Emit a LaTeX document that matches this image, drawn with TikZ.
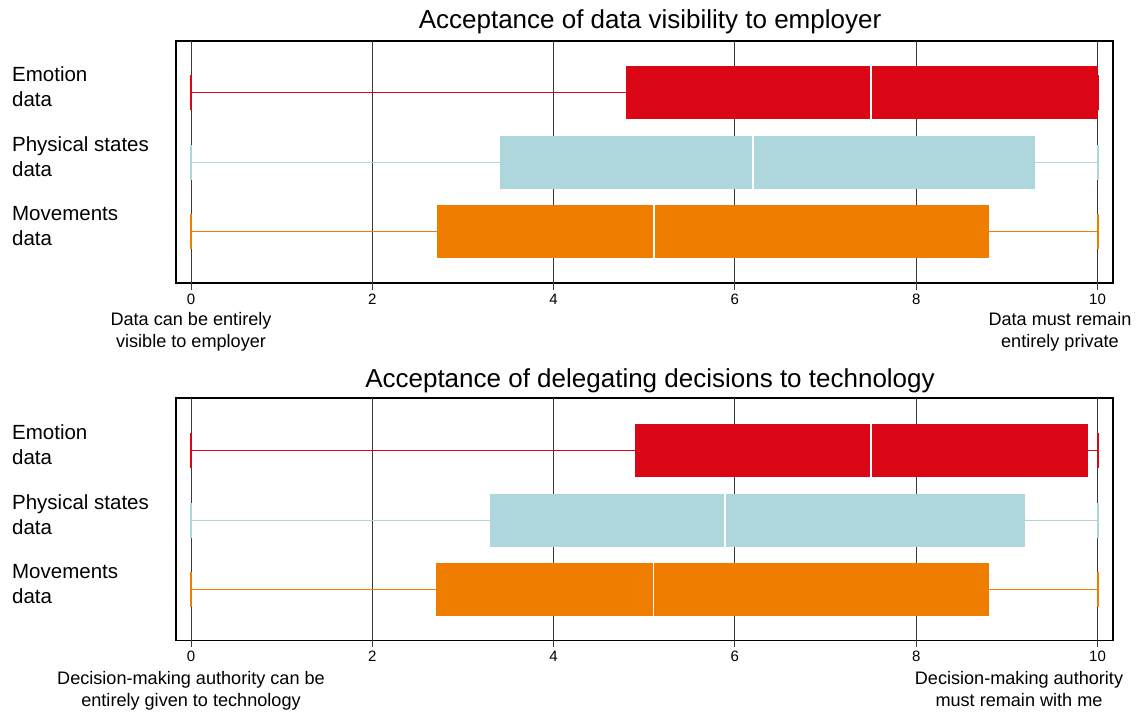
\documentclass[tikz,border=0pt]{standalone}
\usepackage{fontspec}
\setmainfont{Liberation Sans}
\usetikzlibrary{positioning}
\definecolor{emored}{HTML}{DA0515}
\definecolor{physblue}{HTML}{ADD7DC}
\definecolor{moveorange}{HTML}{EF7D00}
\definecolor{gridgrey}{HTML}{3A3A3A}
\tikzset{
    frame/.style={draw=black,line width=1.2pt},
    gridline/.style={draw=gridgrey,line width=0.9pt},
    whisker/.style={line width=1.4pt},
    capline/.style={line width=2pt},
    medianline/.style={draw=white,line width=1.5pt},
    rowlabel/.style={anchor=west,align=left,inner sep=0pt,font=\fontsize{20.5}{25}\selectfont},
    ticklabel/.style={anchor=base,inner sep=0pt,font=\fontsize{15}{17}\selectfont},
    endlabel/.style={anchor=base,align=center,inner sep=0pt,font=\fontsize{18.1}{22}\selectfont},
    charttitle/.style={anchor=base,inner sep=0pt,font=\fontsize{26}{30}\selectfont}
}

\begin{document}
\begin{tikzpicture}[x=1pt,y=-1pt]
    \useasboundingbox (0,0) rectangle (1137,713);
    % data visibility
    \node[charttitle] (titleA) at (650,28.3) {Acceptance of data visibility to employer};
    \begin{scope}[xshift=191pt,yshift=-41pt,x=90.65pt]
        \draw[frame] (-0.165,0) rectangle (10.17,242);
        \foreach \t in {0,2,...,10}{
            \draw[gridline] (\t,0) -- (\t,249);
            \node[ticklabel] (tickA\t) at (\t,263) {\t};
        }
        \foreach \yc/\qa/\md/\qb/\col/\lbl [count=\i] in {
                51.5/4.8/7.5/10/emored/Emotion,
                121.5/3.41/6.2/9.31/physblue/Physical states,
                190.5/2.71/5.11/8.8/moveorange/Movements}{
            \draw[whisker,\col] (0,\yc) -- (\qa,\yc) (\qb,\yc) -- (10,\yc);
            \draw[capline,\col] (0,\yc-17.5) -- (0,\yc+17.5) (10,\yc-17.5) -- (10,\yc+17.5);
            \fill[\col] (\qa,\yc-26.5) rectangle (\qb,\yc+26.5);
            \draw[medianline] (\md,\yc-26.5) -- (\md,\yc+26.5);
            \node[rowlabel] (rowA\i) at (-1.975,\yc-5.5) {\lbl\\data};
        }
        \node[endlabel] (lowA) at (0,306.7) {Data can be entirely\\visible to employer};
        \node[endlabel] (highA) at (9.586,306.7) {Data must remain\\entirely private};
    \end{scope}
    % delegating decisions
    \node[charttitle] (titleB) at (650,387) {Acceptance of delegating decisions to technology};
    \begin{scope}[xshift=191pt,yshift=-398pt,x=90.65pt]
        \draw[frame] (-0.165,0) rectangle (10.17,242.5);
        \foreach \t in {0,2,...,10}{
            \draw[gridline] (\t,0) -- (\t,249);
            \node[ticklabel] (tickB\t) at (\t,263.7) {\t};
        }
        \foreach \yc/\qa/\md/\qb/\col/\lbl [count=\i] in {
                52.5/4.9/7.5/9.9/emored/Emotion,
                122.5/3.3/5.89/9.2/physblue/Physical states,
                191.5/2.7/5.1/8.8/moveorange/Movements}{
            \draw[whisker,\col] (0,\yc) -- (\qa,\yc) (\qb,\yc) -- (10,\yc);
            \draw[capline,\col] (0,\yc-17.5) -- (0,\yc+17.5) (10,\yc-17.5) -- (10,\yc+17.5);
            \fill[\col] (\qa,\yc-26.5) rectangle (\qb,\yc+26.5);
            \draw[medianline] (\md,\yc-26.5) -- (\md,\yc+26.5);
            \node[rowlabel] (rowB\i) at (-1.975,\yc-5.5) {\lbl\\data};
        }
        \node[endlabel] (lowB) at (0,308) {Decision-making authority can be\\entirely given to technology};
        \node[endlabel] (highB) at (9.134,308) {Decision-making authority\\must remain with me};
    \end{scope}
\end{tikzpicture}
\end{document}
